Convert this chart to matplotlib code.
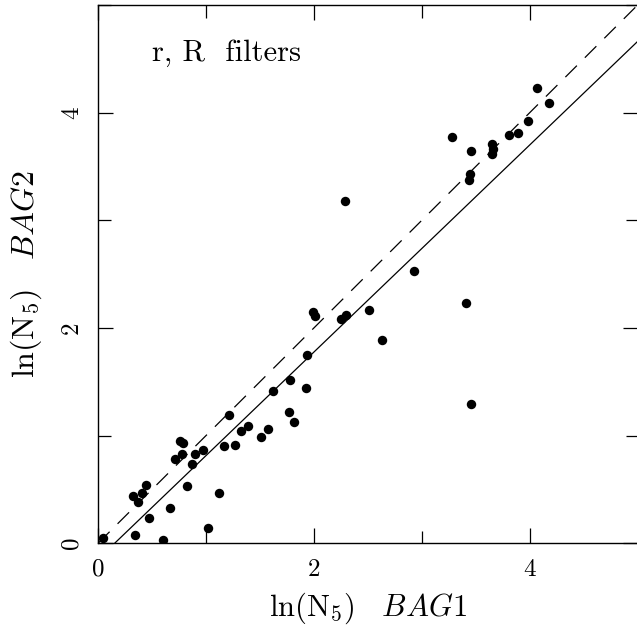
import matplotlib
matplotlib.use("Agg")
import matplotlib.pyplot as plt
import numpy as np

# ln(N5) measured with BAG1 (x) and BAG2 (y), r,R filters
bag1 = [0.05, 0.34, 0.60, 0.32, 0.37, 0.41, 0.44, 0.47, 0.67, 0.71,
        0.76, 0.79, 0.78, 0.82, 0.87, 0.90, 0.97, 1.02, 1.12, 1.17,
        1.21, 1.27, 1.32, 1.39, 1.51, 1.57, 1.62, 1.77, 1.78, 1.82,
        1.93, 1.94, 1.99, 2.01, 2.25, 2.30, 2.29, 2.51, 2.63, 2.93,
        3.28, 3.41, 3.46, 3.45, 3.44, 3.46, 3.65, 3.66, 3.65, 3.81,
        3.89, 3.98, 4.07, 4.18]
bag2 = [0.05, 0.08, 0.03, 0.44, 0.38, 0.47, 0.54, 0.23, 0.33, 0.78,
        0.95, 0.93, 0.83, 0.53, 0.74, 0.83, 0.87, 0.14, 0.47, 0.90,
        1.19, 0.91, 1.04, 1.09, 0.99, 1.06, 1.41, 1.22, 1.52, 1.13,
        1.44, 1.75, 2.15, 2.11, 2.08, 2.12, 3.18, 2.17, 1.89, 2.53,
        3.77, 2.23, 3.64, 3.43, 3.37, 1.29, 3.71, 3.66, 3.62, 3.79,
        3.81, 3.92, 4.23, 4.09]

# fitted relation (solid) and one-to-one line (dashed)
fit_slope, fit_icpt = 0.962, -0.148

plt.rcParams['font.family'] = ['cmr10', 'DejaVu Serif']
plt.rcParams['mathtext.fontset'] = 'cm'
plt.rcParams['axes.formatter.use_mathtext'] = True

fig = plt.figure(figsize=(6.37, 6.28), dpi=100)
ax = fig.add_axes([0.154, 0.135, 0.847, 0.857])

xx = np.array([0.0, 5.0])
ax.plot(xx, xx, color='black', lw=0.9, dashes=(13, 9))
ax.plot(xx, fit_slope * xx + fit_icpt, color='black', lw=0.9)
ax.plot(bag1, bag2, 'o', color='black', markersize=6.8, markeredgewidth=0)

ax.set_xlim(0, 5)
ax.set_ylim(0, 5)
ax.set_xticks([0, 2, 4])
ax.set_yticks([0, 2, 4])
ax.set_xticklabels(['0', '2', '4'])
ax.set_yticklabels(['0', '2', '4'])
ax.set_xticks([1, 3, 5], minor=True)
ax.set_yticks([1, 3, 5], minor=True)
ax.tick_params(which='both', direction='in', top=True, right=True,
               width=0.9, labelsize=18)
ax.tick_params(axis='x', pad=11)
ax.tick_params(axis='y', pad=11)
ax.tick_params(which='major', length=11)
ax.tick_params(which='minor', length=9)
for lab in ax.get_yticklabels():
    lab.set_rotation(90)
    lab.set_va('center')
for s in ax.spines.values():
    s.set_linewidth(1.0)

ax.text(0.5, 4.55, 'r, R  filters', fontsize=22, ha='left', va='center')

ax.set_xlabel(r'$\mathrm{ln(N_5)}\ \ \ \mathit{BAG1}$', fontsize=22, labelpad=7)
ax.set_ylabel(r'$\mathrm{ln(N_5)}\ \ \ \mathit{BAG2}$', fontsize=23, labelpad=12)

fig.savefig('out.png', dpi=100)
